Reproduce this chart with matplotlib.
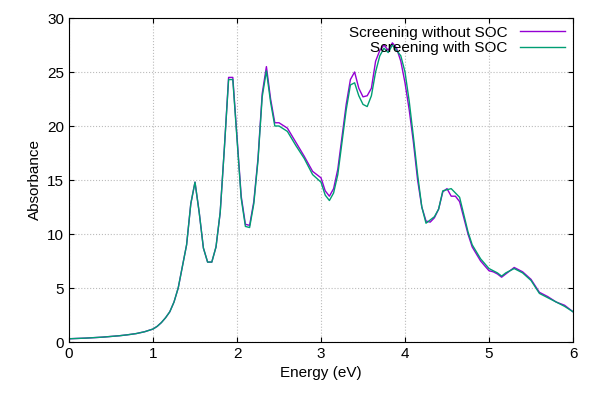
import matplotlib.pyplot as plt
import numpy as np

plt.rcParams['font.family'] = ['Liberation Sans', 'DejaVu Sans']

energy = [0.0, 0.2, 0.4, 0.6, 0.7, 0.8, 0.9, 1.0, 1.05, 1.1, 1.15, 1.2, 1.25, 1.3, 1.35, 1.4,
          1.45, 1.5, 1.55, 1.6, 1.65, 1.7, 1.75,
          1.8, 1.85, 1.9, 1.95, 2.0, 2.05, 2.1, 2.15, 2.2, 2.25, 2.3, 2.35, 2.4, 2.45, 2.5,
          2.6, 2.7, 2.8, 2.9, 3.0, 3.05, 3.1, 3.15, 3.2, 3.25, 3.3, 3.35, 3.4, 3.45, 3.5,
          3.55, 3.6, 3.65, 3.7, 3.75, 3.8, 3.85, 3.9, 3.95, 4.0, 4.05, 4.1, 4.15, 4.2, 4.25,
          4.3, 4.35, 4.4, 4.45, 4.5, 4.55, 4.6, 4.65, 4.7, 4.75, 4.8, 4.9, 5.0, 5.05, 5.1,
          5.15, 5.2, 5.3, 5.4, 5.5, 5.6, 5.7, 5.8, 5.9, 6.0]
low = [0.3, 0.36, 0.45, 0.58, 0.67, 0.78, 0.95, 1.2, 1.45, 1.8, 2.25, 2.8, 3.7, 5.0, 7.0, 9.0,
       12.8, 14.8, 12.0, 8.7, 7.4, 7.4, 8.8]
no_soc = low + [
          12.0, 18.0, 24.5, 24.5, 19.0, 13.5, 10.9, 10.8, 13.0, 17.0, 23.0, 25.5, 22.5, 20.3, 20.3,
          19.8, 18.5, 17.2, 15.8, 15.2, 14.0, 13.5, 14.2, 16.0, 19.0, 22.0, 24.3, 25.0, 23.5, 22.7,
          22.8, 23.5, 26.0, 27.0, 27.5, 27.0, 27.7, 27.2, 26.0, 24.0, 21.5, 18.5, 15.0, 12.5, 11.2,
          11.1, 11.5, 12.3, 13.9, 14.2, 13.5, 13.5, 13.0, 11.5, 10.0, 8.8, 7.5, 6.6, 6.5, 6.3,
          6.0, 6.3, 6.9, 6.5, 5.8, 4.6, 4.2, 3.7, 3.4, 2.8]
with_soc = low + [
            12.0, 18.0, 24.3, 24.3, 18.8, 13.3, 10.7, 10.6, 12.8, 16.8, 22.7, 25.1, 22.2, 20.0, 20.0,
            19.5, 18.2, 17.0, 15.5, 14.8, 13.6, 13.1, 13.8, 15.5, 18.5, 21.5, 23.8, 24.0, 22.8, 22.0,
            21.8, 22.8, 25.0, 26.5, 27.2, 26.8, 27.5, 27.0, 26.5, 25.0, 22.3, 19.0, 15.5, 12.5, 11.0,
            11.3, 11.6, 12.3, 14.0, 14.1, 14.2, 13.8, 13.4, 11.8, 10.2, 9.0, 7.7, 6.8, 6.6, 6.4,
            6.1, 6.4, 6.8, 6.4, 5.7, 4.5, 4.1, 3.7, 3.3, 2.8]

fig, ax = plt.subplots(figsize=(6, 4), dpi=100)
fig.subplots_adjust(left=0.115, right=0.955, top=0.955, bottom=0.145)

ax.plot(energy, no_soc, color='#9400d3', lw=1, label='Screening without SOC')
ax.plot(energy, with_soc, color='#009e73', lw=1, label='Screening with SOC')

ax.set_xlim(0, 6)
ax.set_ylim(0, 30)
ax.set_xticks(np.arange(0, 7, 1))
ax.set_yticks(np.arange(0, 31, 5))
ax.grid(True, color='#bbbbbb', ls=':', lw=0.8)
ax.tick_params(direction='in', top=True, right=True, labelsize=11)
ax.set_xlabel('Energy (eV)', fontsize=11)
ax.set_ylabel('Absorbance', fontsize=11)

ax.legend(loc='upper right', frameon=False, fontsize=11, markerfirst=False,
          handlelength=3, borderaxespad=0.1, labelspacing=0.1)

plt.savefig('out.png')
plt.close('all')
